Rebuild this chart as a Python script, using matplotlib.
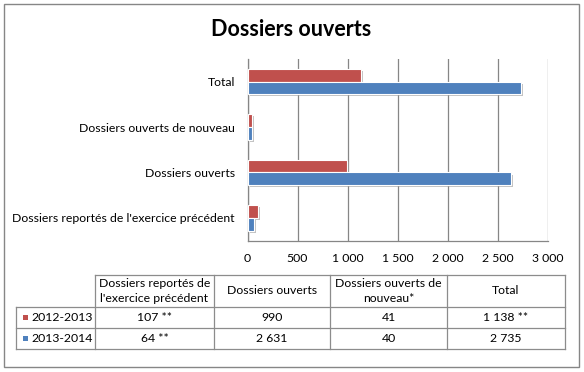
import matplotlib
matplotlib.use("Agg")
import matplotlib.pyplot as plt
from matplotlib.patches import Rectangle
from matplotlib.lines import Line2D
import matplotlib.patheffects as pe
from matplotlib.ticker import FuncFormatter

# ---------------- data ----------------
title = "Dossiers ouverts"
categories = ["Dossiers reportés de l'exercice précédent", "Dossiers ouverts",
              "Dossiers ouverts de nouveau", "Total"]
table_headers = ["Dossiers reportés de\nl'exercice précédent", "Dossiers ouverts",
                 "Dossiers ouverts de\nnouveau*", "Total"]
series_names = ["2012-2013", "2013-2014"]
values_2012 = [107, 990, 41, 1138]
values_2013 = [64, 2631, 40, 2735]
notes_2012 = ["**", "", "", "**"]
notes_2013 = ["**", "", "", ""]
xticks = [0, 500, 1000, 1500, 2000, 2500, 3000]

colors = ["#C0504D", "#4F81BD"]
FONT = "Lato"
FS = 8.8
W, H = 584, 372

def fmt(v):
    return f"{int(v):,}".replace(",", " ")

fig = plt.figure(figsize=(W / 100, H / 100), dpi=100)
fig.patch.set_facecolor("white")

def fx(x):
    return x / W

def fy(y):
    return 1 - y / H

# outer border
fig.add_artist(Rectangle((fx(3.5), fy(366.5)), fx(575), (363 / H), transform=fig.transFigure,
                         fill=False, edgecolor="#868686", linewidth=1.0))

# title
fig.text(fx(291), fy(30), title, ha="center", va="center", fontsize=15.5,
         fontweight="bold", family=FONT, color="black")

# axes
ax = fig.add_axes([fx(247.5), fy(240.5), 300 / W, 181.5 / H])
h = 0.28
ypos = list(range(len(categories)))
shadow = [pe.SimplePatchShadow(offset=(1.5, -1.5), shadow_rgbFace="#9a9a9a", alpha=0.6), pe.Normal()]
b1 = ax.barh([y + h / 2 for y in ypos], values_2012, height=h, color=colors[0],
             edgecolor="white", linewidth=0.8, zorder=3)
b2 = ax.barh([y - h / 2 for y in ypos], values_2013, height=h, color=colors[1],
             edgecolor="white", linewidth=0.8, zorder=3)
for b in list(b1) + list(b2):
    b.set_path_effects(shadow)

ax.set_xlim(0, 3000)
ax.set_ylim(-0.5, len(categories) - 0.5)
ax.set_xticks(xticks)
ax.xaxis.set_major_formatter(FuncFormatter(lambda v, p: fmt(v)))
ax.set_yticks(ypos)
ax.set_yticklabels(categories)
ax.grid(axis="x", color="#868686", linewidth=0.9, zorder=0)
ax.set_axisbelow(True)
for s in ["top", "right"]:
    ax.spines[s].set_visible(False)
for s in ["left", "bottom"]:
    ax.spines[s].set_color("#868686")
    ax.spines[s].set_linewidth(0.9)
ax.tick_params(axis="both", length=0, labelsize=FS, colors="black")
ax.tick_params(axis="x", pad=9)
ax.tick_params(axis="y", pad=9)
for lab in ax.get_xticklabels() + ax.get_yticklabels():
    lab.set_family(FONT)

# table
col_x = [16, 95, 214, 330, 447, 565]
row_y = [275, 307, 328, 349]
lc = "#8c8c8c"

def hline(x0, x1, y):
    fig.add_artist(Line2D([fx(x0), fx(x1)], [fy(y), fy(y)], transform=fig.transFigure,
                          color=lc, linewidth=0.9))

def vline(x, y0, y1):
    fig.add_artist(Line2D([fx(x), fx(x)], [fy(y0), fy(y1)], transform=fig.transFigure,
                          color=lc, linewidth=0.9))

hline(col_x[1], col_x[-1], row_y[0])
for y in row_y[1:]:
    hline(col_x[0], col_x[-1], y)
vline(col_x[0], row_y[1], row_y[-1])
for x in col_x[1:]:
    vline(x, row_y[0], row_y[-1])

for i, hd in enumerate(table_headers):
    cx = (col_x[i + 1] + col_x[i + 2]) / 2
    fig.text(fx(cx), fy((row_y[0] + row_y[1]) / 2), hd, ha="center", va="center",
             fontsize=FS, family=FONT, linespacing=1.5)

rows = [(values_2012, notes_2012), (values_2013, notes_2013)]
for r, (vals, notes) in enumerate(rows):
    cy = (row_y[r + 1] + row_y[r + 2]) / 2
    fig.add_artist(Rectangle((fx(23), fy(cy + 2.5)), 5 / W, 5 / H, transform=fig.transFigure,
                             facecolor=colors[r], edgecolor="none"))
    fig.text(fx(31), fy(cy), series_names[r], ha="left", va="center", fontsize=FS, family=FONT)
    for i, (v, n) in enumerate(zip(vals, notes)):
        cx = (col_x[i + 1] + col_x[i + 2]) / 2
        txt = fmt(v) + (" " + n if n else "")
        fig.text(fx(cx), fy(cy), txt, ha="center", va="center", fontsize=FS, family=FONT)

fig.savefig("out.png", dpi=100, facecolor="white")
